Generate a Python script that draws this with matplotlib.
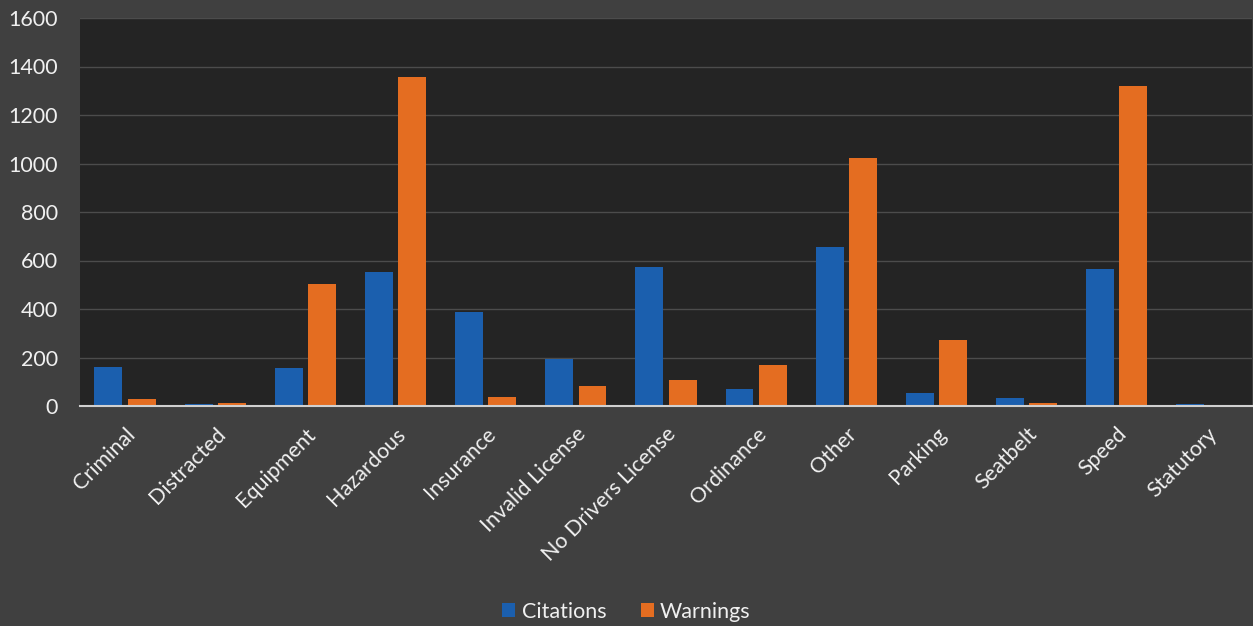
import matplotlib.pyplot as plt
import numpy as np

categories = ['Criminal', 'Distracted', 'Equipment', 'Hazardous', 'Insurance',
              'Invalid License', 'No Drivers License', 'Ordinance', 'Other',
              'Parking', 'Seatbelt', 'Speed', 'Statutory']
citations = [162, 8, 157, 552, 387, 193, 575, 71, 654, 52, 32, 565, 7]
warnings = [27, 11, 504, 1358, 36, 83, 107, 168, 1024, 271, 11, 1321, 0]

plt.rcParams['font.family'] = ['Lato', 'DejaVu Sans']

fig = plt.figure(figsize=(12.53, 6.26), dpi=100)
fig.patch.set_facecolor('#404040')
ax = fig.add_axes([80 / 1253, 1 - 406 / 626, 1172 / 1253, 388 / 626])
ax.set_facecolor('#242424')

x = np.arange(len(categories))
w = 0.31
ax.bar(x - 0.185, citations, w, color='#1b5fae', label='Citations', zorder=3)
ax.bar(x + 0.185, warnings, w, color='#e46d21', label='Warnings', zorder=3)

ax.set_xlim(-0.5, len(categories) - 0.5)
ax.set_ylim(0, 1600)
ax.set_yticks(range(0, 1601, 200))
ax.grid(axis='y', color='#4c4c4c', linewidth=1, zorder=0)
ax.set_axisbelow(True)

for s in ['top', 'right', 'left']:
    ax.spines[s].set_visible(False)
ax.spines['bottom'].set_color('#d0d0d0')
ax.spines['bottom'].set_linewidth(1.5)
ax.spines['bottom'].set_zorder(4)

ax.set_xticks(x)
ax.set_xticklabels(categories, rotation=45, ha='right', rotation_mode='anchor')
ax.tick_params(axis='x', length=0, pad=13, labelsize=15.5, colors='#f0f0f0')
ax.tick_params(axis='y', length=0, pad=16, labelsize=15.5, colors='#f0f0f0')

leg = fig.legend(loc='lower center', bbox_to_anchor=(0.5, -0.024), ncol=2, frameon=False,
                 fontsize=15.5, handlelength=0.6, handleheight=0.6, handletextpad=0.3,
                 columnspacing=1.6)
for t in leg.get_texts():
    t.set_color('#f0f0f0')

fig.savefig('out.png', dpi=100, facecolor=fig.get_facecolor())
